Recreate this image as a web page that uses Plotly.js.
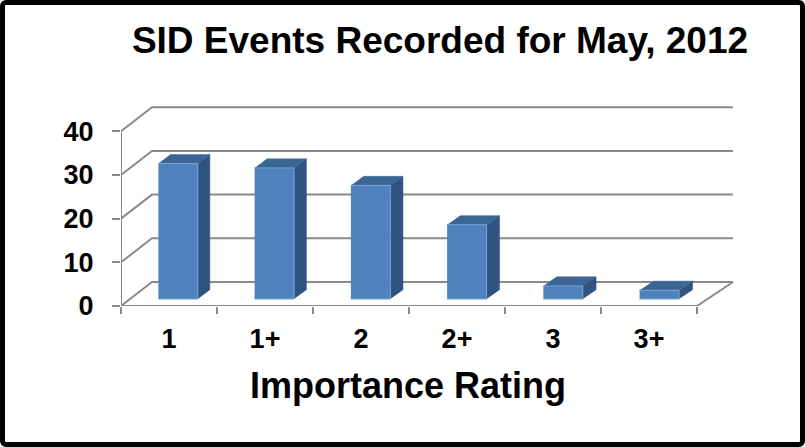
<!DOCTYPE html>
<html>
<head>
<meta charset="utf-8">
<script src="https://cdn.plot.ly/plotly-3.0.1.min.js"></script>
<style>
  html, body { margin: 0; padding: 0; background: #fff; }
  #wrap { position: relative; width: 805px; height: 447px; }
  #chart { position: absolute; left: 0; top: 0; width: 805px; height: 447px; }
  #frame { position: absolute; left: 0; top: 0; width: 805px; height: 447px; box-sizing: border-box;
           border: 5px solid #000; border-radius: 6px; pointer-events: none; }
</style>
</head>
<body>
<div id="wrap"><div id="chart"></div><div id="frame"></div></div>
<script>
// ---- data ----
const categories = ['1', '1+', '2', '2+', '3', '3+'];
const events = [31, 30, 26, 17, 3, 2];
const yTicks = [0, 10, 20, 30, 40];
const chartTitle = 'SID Events Recorded for May, 2012';
const xTitle = 'Importance Rating';

// ---- geometry (pixel scale of the front plane) ----
const PLOT_L = 121, PLOT_R = 745, PLOT_T = 100, PLOT_B = 306;
const PX_X = 96, PX_Y = 4.37;
const xMin = -0.5, xMax = xMin + (PLOT_R - PLOT_L) / PX_X;
const yMin = 0, yMax = (PLOT_B - PLOT_T) / PX_Y;
const n = categories.length;
const DXL = 31 / PX_X, DXR = 36 / PX_X, DY = 24 / PX_Y;
const yTop = yTicks[yTicks.length - 1];
function dxAt(x) { return DXL + (DXR - DXL) * (x - xMin) / n; }
function P(x, f, v) { return [x + f * dxAt(x), v + f * DY]; }

function polyTrace(polys, fill, line, lw) {
  const xs = [], ys = [];
  polys.forEach(p => { p.forEach(q => { xs.push(q[0]); ys.push(q[1]); }); xs.push(null); ys.push(null); });
  return { x: xs, y: ys, type: 'scatter', mode: 'lines', fill: 'toself', fillcolor: fill,
           line: { color: line, width: lw }, hoverinfo: 'skip', showlegend: false, cliponaxis: false };
}

// gridlines on left and back walls + floor
const gx = [], gy = [];
yTicks.forEach(v => {
  [P(xMin, 0, v), P(xMin, 1, v), P(xMin + n, 1, v)].forEach(q => { gx.push(q[0]); gy.push(q[1]); });
  gx.push(null); gy.push(null);
});
[P(xMin + n, 1, 0), P(xMin + n, 0, 0), P(xMin, 0, 0), P(xMin, 0, yTop)].forEach(q => { gx.push(q[0]); gy.push(q[1]); });
const gridTrace = { x: gx, y: gy, type: 'scatter', mode: 'lines', line: { color: '#8a8a8a', width: 2 },
                    hoverinfo: 'skip', showlegend: false, cliponaxis: false };

// 3D bars
const W = 0.41, F0 = 0.29, F1 = 0.67;
const fronts = [], tops = [], sides = [];
events.forEach((v, i) => {
  const a = i - W / 2, b = i + W / 2;
  fronts.push([P(a, F0, 0), P(b, F0, 0), P(b, F0, v), P(a, F0, v)]);
  tops.push([P(a, F0, v), P(b, F0, v), P(b, F1, v), P(a, F1, v)]);
  sides.push([P(b, F0, 0), P(b, F0, v), P(b, F1, v), P(b, F1, 0)]);
});

const traces = [
  gridTrace,
  polyTrace(sides, '#30537f', '#30537f', 0.5),
  polyTrace(tops, '#3b6595', '#3b6595', 0.5),
  polyTrace(fronts, '#4f81bd', '#7aa3d6', 1)
];

const font = { family: 'Liberation Sans, Arial, sans-serif', color: '#000', weight: 'bold' };
const minorVals = [];
for (let i = 0; i <= n; i++) minorVals.push(xMin + i);

const layout = {
  width: 805, height: 447,
  margin: { l: PLOT_L, r: 805 - PLOT_R, t: PLOT_T, b: 447 - PLOT_B, pad: 0 },
  paper_bgcolor: '#fff', plot_bgcolor: 'rgba(0,0,0,0)',
  showlegend: false,
  title: { text: chartTitle, font: Object.assign({ size: 37 }, font),
           x: 440 / 805, xanchor: 'center', xref: 'container', y: 1 - 40 / 447, yanchor: 'middle', yref: 'container' },
  xaxis: { range: [xMin, xMax], tickmode: 'array', tickvals: categories.map((c, i) => i), ticktext: categories,
           ticks: '', showgrid: false, zeroline: false, showline: false, fixedrange: true,
           tickfont: Object.assign({ size: 27 }, font), ticklabelstandoff: 14,
           minor: { tickmode: 'array', tickvals: minorVals, ticks: 'outside', ticklen: 7, tickwidth: 2, tickcolor: '#8a8a8a', showgrid: false } },
  yaxis: { range: [yMin, yMax], tickmode: 'array', tickvals: yTicks, ticks: 'outside', ticklen: 8, tickwidth: 2,
           tickcolor: '#8a8a8a', showgrid: false, zeroline: false, showline: false, fixedrange: true,
           tickfont: Object.assign({ size: 27 }, font), ticklabelstandoff: 13 },
  annotations: [{ text: xTitle, xref: 'paper', yref: 'paper', x: (408 - PLOT_L) / (PLOT_R - PLOT_L),
                  y: (PLOT_B - 385) / (PLOT_B - PLOT_T), xanchor: 'center', yanchor: 'middle', showarrow: false,
                  font: Object.assign({ size: 36 }, font) }]
};

Plotly.newPlot('chart', traces, layout, { displayModeBar: false, staticPlot: true });
</script>
</body>
</html>
